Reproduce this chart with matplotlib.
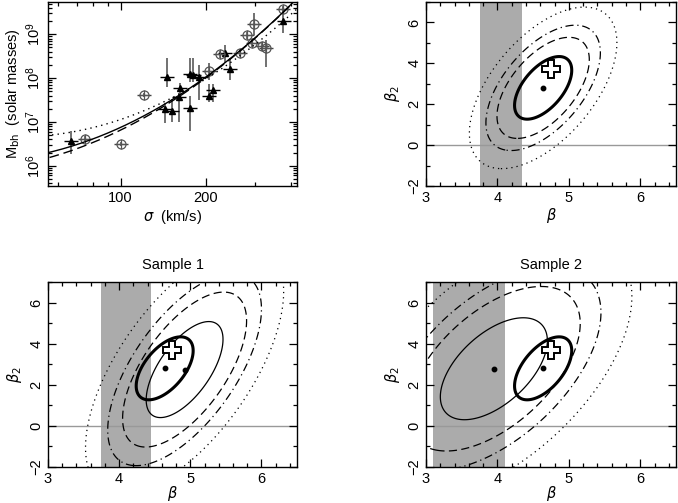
import numpy as np
import matplotlib
matplotlib.use('Agg')
import matplotlib.pyplot as plt
from matplotlib.ticker import MultipleLocator, FixedLocator, FixedFormatter, LogLocator, NullFormatter

plt.rcParams['font.family'] = ['Liberation Sans', 'DejaVu Sans']
plt.rcParams['mathtext.fontset'] = 'dejavusans'
plt.rcParams['font.size'] = 10.5

# ---- M_bh - sigma data (filled = one set, open = other set)
sig_fill = [67, 146, 144, 152, 162, 161, 176, 176, 181, 190, 212, 206, 234, 244, 377]
lm_fill = [6.56, 8.03, 7.29, 7.25, 7.77, 7.56, 7.32, 8.09, 8.07, 8.03, 7.73, 7.60, 8.57, 8.20, 9.31]
lm_fill_lo = [6.27, 7.80, 6.98, 7.00, 7.57, 7.00, 6.80, 7.91, 7.91, 7.50, 7.45, 7.45, 8.34, 7.96, 9.02]
lm_fill_hi = [6.80, 8.45, 7.43, 7.52, 7.89, 7.65, 7.58, 8.46, 8.46, 8.30, 7.87, 7.87, 8.76, 8.46, 9.63]

sig_open = [75, 100, 121, 206, 224, 265, 280, 293, 297, 316, 326, 375]
lm_open = [6.62, 6.49, 7.61, 8.16, 8.54, 8.58, 8.98, 8.81, 9.24, 8.73, 8.69, 9.57]
lm_open_lo = [6.57, 6.44, 7.56, 7.96, 8.46, 8.50, 8.90, 8.72, 8.98, 8.62, 8.26, 9.50]
lm_open_hi = [6.67, 6.54, 7.66, 8.34, 8.62, 8.66, 9.06, 8.90, 9.48, 8.82, 8.87, 9.64]

# fitted curves: log M = a + beta*u + beta2*u^2, u = log10(sigma/200)
fit_a = [8.02, 8.00, 7.98]
fit_beta = [4.65, 4.74, 3.98]
fit_beta2 = [2.80, 2.64, 3.00]
fit_ls = ['-', (0, (7, 3.5)), (0, (1, 3))]

# ---- (beta, beta2) confidence regions: all, sample 1, sample 2
ell_beta = [4.64, 4.92, 3.95]
ell_beta2 = [2.80, 2.74, 2.78]
ell_sbeta = [0.264, 0.356, 0.494]
ell_sbeta2 = [1.01, 1.54, 1.635]
ell_rho = [0.56, 0.63, 0.55]
dchi2_levels = [2.30, 5.99, 9.21, 15.3]
cross_beta, cross_beta2 = 4.75, 3.70
band_lo = [3.75, 3.75, 3.10]
band_hi = [4.35, 4.45, 4.10]
titles = ['', 'Sample 1', 'Sample 2']

lev_styles = ['solid', (0, (6.5, 3.5)), (0, (6.5, 3, 1, 3)), (0, (1, 3.2))]

fig = plt.figure(figsize=(6.78, 5.03), dpi=100)
W, H = 678., 503.

def box(l, r, t, b):
    return [l / W, 1 - b / H, (r - l) / W, (b - t) / H]

def style(ax):
    for s in ax.spines.values():
        s.set_linewidth(1.0)
    ax.tick_params(which='both', direction='in', top=True, right=True, width=0.9)
    ax.tick_params(which='major', length=6)
    ax.tick_params(which='minor', length=3)
    ax.tick_params(axis='y', labelrotation=90)
    for lab in ax.get_yticklabels():
        lab.set_va('center')

# ---- top left: M - sigma
ax = fig.add_axes(box(48, 297, 2, 186))
ax.set_xscale('log')
ax.set_yscale('log')
sf = np.array(sig_fill, float)
so = np.array(sig_open, float)
mf = 10 ** np.array(lm_fill)
mo = 10 ** np.array(lm_open)
ax.errorbar(sf, mf, yerr=[mf - 10 ** np.array(lm_fill_lo), 10 ** np.array(lm_fill_hi) - mf],
            fmt='none', ecolor='#666666', elinewidth=1.3)
ax.errorbar(so, mo, yerr=[mo - 10 ** np.array(lm_open_lo), 10 ** np.array(lm_open_hi) - mo],
            fmt='none', ecolor='#666666', elinewidth=1.3)
ax.errorbar(sf, mf, xerr=[sf * 0.055, sf * 0.06], fmt='none', ecolor='black', elinewidth=1.0)
ax.errorbar(so, mo, xerr=[so * 0.055, so * 0.06], fmt='none', ecolor='#444444', elinewidth=1.0)
ax.plot(sf, mf, '^', color='black', ms=5, ls='none')
ax.plot(so, mo, 'o', mfc='none', mec='#555555', mew=0.9, ms=6.5, ls='none')
ax.plot(so, mo, '+', color='#555555', mew=0.9, ms=6.5, ls='none')

sg = np.logspace(np.log10(50), np.log10(450), 300)
u = np.log10(sg / 200.)
for a, b, c, ls in zip(fit_a, fit_beta, fit_beta2, fit_ls):
    ax.plot(sg, 10 ** (a + b * u + c * u ** 2), color='black', lw=1.0, linestyle=ls)

ax.set_xlim(55.4, 421)
ax.set_ylim(10 ** 5.537, 10 ** 9.737)
ax.xaxis.set_major_locator(FixedLocator([100, 200]))
ax.xaxis.set_major_formatter(FixedFormatter(['100', '200']))
ax.xaxis.set_minor_locator(FixedLocator([60, 70, 80, 90, 300, 400]))
ax.xaxis.set_minor_formatter(NullFormatter())
ax.yaxis.set_major_locator(LogLocator(base=10))
ax.yaxis.set_minor_locator(LogLocator(base=10, subs=np.arange(2, 10)))
ax.yaxis.set_minor_formatter(NullFormatter())
ax.set_xlabel(r'$\sigma$  (km/s)', labelpad=2)
ax.set_ylabel(r'M$_{\rm bh}$  (solar masses)', labelpad=2)
style(ax)

# ---- beta / beta2 panels
bb = np.linspace(1.5, 8.5, 500)
b2 = np.linspace(-10, 16, 600)
BB, B2 = np.meshgrid(bb, b2)

def dchi2(i):
    dx = (BB - ell_beta[i]) / ell_sbeta[i]
    dy = (B2 - ell_beta2[i]) / ell_sbeta2[i]
    r = ell_rho[i]
    return (dx ** 2 - 2 * r * dx * dy + dy ** 2) / (1 - r ** 2)

boxes = [box(426, 676, 2, 186), box(48, 297, 282, 467), box(426, 676, 282, 467)]
for i, bx in enumerate(boxes):
    ax = fig.add_axes(bx)
    ax.axvspan(band_lo[i], band_hi[i], color='#ababab', lw=0, zorder=0)
    ax.axhline(0, color='#999999', lw=1.0, zorder=1)
    lws = [2.2 if i == 0 else 0.9, 0.9, 0.9, 0.9]
    ax.contour(BB, B2, dchi2(i), levels=dchi2_levels, colors='black',
               linewidths=lws, linestyles=lev_styles, zorder=2)
    ax.plot(ell_beta[i], ell_beta2[i], 'o', color='black', ms=3.2, zorder=4)
    if i > 0:
        ax.contour(BB, B2, dchi2(0), levels=dchi2_levels[:1], colors='black',
                   linewidths=2.2, linestyles='solid', zorder=3)
        ax.plot(ell_beta[0], ell_beta2[0], 'o', color='black', ms=3.2, zorder=4)
    ax.plot(cross_beta, cross_beta2, 'P', mfc='white', mec='black', mew=1.4, ms=13, zorder=5)
    ax.set_xlim(3, 6.5)
    ax.set_ylim(-2, 7)
    ax.xaxis.set_major_locator(MultipleLocator(1))
    ax.xaxis.set_minor_locator(MultipleLocator(0.2))
    ax.yaxis.set_major_locator(MultipleLocator(2))
    ax.yaxis.set_minor_locator(MultipleLocator(1))
    ax.set_xlabel(r'$\beta$', labelpad=1 if i == 0 else -1.5)
    ax.set_ylabel(r'$\beta_2$', labelpad=4)
    if titles[i]:
        ax.set_title(titles[i], pad=9, fontsize=10.5)
    style(ax)

fig.savefig('out.png', dpi=100)
